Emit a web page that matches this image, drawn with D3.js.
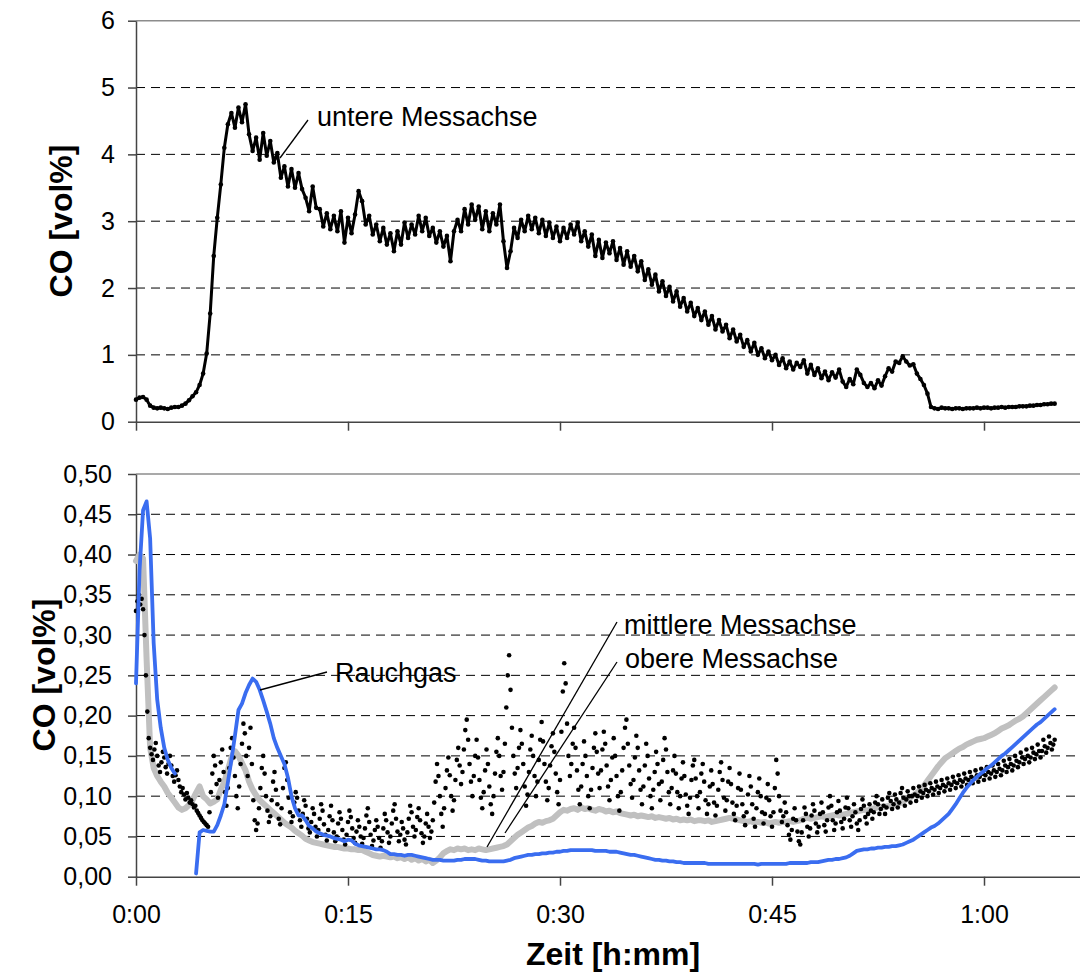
<!DOCTYPE html>
<html>
<head>
<meta charset="utf-8">
<script src="https://cdn.jsdelivr.net/npm/d3@7"></script>
<style>
  body { margin: 0; background: #fff; }
  svg text { font-family: Arial, "Liberation Sans", sans-serif; fill: #000; }
</style>
</head>
<body>
<div id="chart"></div>
<script>
// sample spacing in minutes
const step = 0.25;       // untere, Rauchgas, obere
const stepMitte = 0.1;   // mittlere (scatter)

// CO untere Messachse [vol%], top panel
const untere = [
  0.33, 0.36, 0.37, 0.33,  0.24, 0.21, 0.20, 0.21,  0.20, 0.19, 0.21, 0.22,
  0.22, 0.24, 0.27, 0.32,  0.38, 0.44, 0.55, 0.72,  1.02, 1.62, 2.48, 3.05,
  3.55, 4.10, 4.45, 4.62,  4.40, 4.70, 4.48, 4.75,  4.30, 4.05, 4.25, 3.92,
  4.32, 3.98, 4.20, 3.88,  4.02, 3.65, 3.82, 3.52,  3.78, 3.50, 3.72, 3.48,
  3.35, 3.15, 3.52, 3.20,  3.18, 2.92, 3.12, 2.88,  3.08, 2.85, 3.15, 2.68,
  3.05, 2.82, 3.10, 3.45,  3.30, 2.95, 3.08, 2.80,  2.95, 2.70, 2.90, 2.65,
  2.82, 2.55, 2.85, 2.65,  2.98, 2.75, 2.95, 2.80,  3.08, 2.85, 3.05, 2.78,
  2.90, 2.68, 2.85, 2.62,  2.78, 2.40, 2.85, 3.02,  2.85, 3.18, 2.95, 3.25,
  3.02, 3.22, 2.88, 3.15,  2.85, 3.12, 2.95, 3.25,  2.70, 2.30, 2.55, 2.90,
  2.75, 3.02, 2.85, 3.08,  2.88, 3.05, 2.82, 3.02,  2.78, 2.98, 2.75, 2.92,
  2.70, 2.90, 2.75, 2.95,  2.80, 2.98, 2.70, 2.85,  2.62, 2.80, 2.48, 2.72,
  2.45, 2.68, 2.52, 2.70,  2.42, 2.60, 2.35, 2.55,  2.32, 2.48, 2.25, 2.40,
  2.12, 2.28, 2.05, 2.20,  1.95, 2.10, 1.88, 2.02,  1.80, 1.95, 1.72, 1.85,
  1.65, 1.78, 1.58, 1.70,  1.52, 1.65, 1.45, 1.58,  1.38, 1.52, 1.35, 1.45,
  1.25, 1.38, 1.20, 1.30,  1.12, 1.22, 1.05, 1.18,  1.00, 1.10, 0.95, 1.05,
  0.92, 1.00, 0.85, 0.95,  0.80, 0.90, 0.78, 0.88,  0.82, 0.92, 0.72, 0.85,
  0.70, 0.80, 0.65, 0.75,  0.62, 0.74, 0.66, 0.78,  0.60, 0.52, 0.64, 0.56,
  0.78, 0.70, 0.58, 0.52,  0.58, 0.50, 0.62, 0.54,  0.68, 0.80, 0.75, 0.90,
  0.88, 0.98, 0.90, 0.84,  0.86, 0.72, 0.64, 0.55,  0.42, 0.22, 0.20, 0.19,
  0.21, 0.20, 0.20, 0.19,  0.20, 0.20, 0.19, 0.20,  0.20, 0.20, 0.21, 0.20,
  0.21, 0.21, 0.20, 0.21,  0.21, 0.22, 0.21, 0.22,  0.22, 0.22, 0.23, 0.23,
  0.23, 0.24, 0.24, 0.25,  0.25, 0.26, 0.26, 0.27,  0.27
];

// CO Rauchgas [vol%], bottom panel (null = no reading)
const rauchgas = [
  0.240, 0.380, 0.455, 0.466,  0.420, 0.290, 0.220, 0.185,  0.160, 0.145, 0.135, 0.128,
  null, null, null, null,      null, 0.004, 0.055, 0.058,   0.057, 0.056, 0.056, 0.064,
  0.076, 0.090, 0.117, 0.145,  0.175, 0.207, 0.215, 0.228,  0.238, 0.246, 0.242, 0.232,
  0.219, 0.205, 0.190, 0.172,  0.160, 0.150, 0.140, 0.123,  0.100, 0.085, 0.076, 0.076,
  0.070, 0.063, 0.060, 0.056,  0.054, 0.052, 0.051, 0.050,  0.048, 0.047, 0.046, 0.044,
  0.046, 0.045, 0.041, 0.039,  0.038, 0.037, 0.036, 0.035,  0.034, 0.034, 0.033, 0.031,
  0.028, 0.028, 0.027, 0.027,  0.026, 0.027, 0.027, 0.026,  0.025, 0.024, 0.023, 0.022,
  0.021, 0.021, 0.021, 0.020,  0.020, 0.020, 0.020, 0.021,  0.021, 0.022, 0.022, 0.022,
  0.022, 0.021, 0.020, 0.020,  0.019, 0.019, 0.019, 0.019,  0.019, 0.020, 0.021, 0.023,
  0.024, 0.025, 0.026, 0.027,  0.027, 0.028, 0.028, 0.029,  0.029, 0.030, 0.030, 0.031,
  0.031, 0.032, 0.032, 0.033,  0.033, 0.033, 0.033, 0.033,  0.033, 0.033, 0.032, 0.032,
  0.032, 0.032, 0.031, 0.031,  0.031, 0.030, 0.029, 0.028,  0.027, 0.027, 0.026, 0.025,
  0.024, 0.023, 0.022, 0.021,  0.021, 0.020, 0.020, 0.019,  0.019, 0.018, 0.018, 0.017,
  0.017, 0.017, 0.017, 0.017,  0.017, 0.017, 0.016, 0.016,  0.016, 0.016, 0.016, 0.016,
  0.016, 0.016, 0.016, 0.016,  0.016, 0.016, 0.016, 0.016,  0.015, 0.016, 0.016, 0.016,
  0.016, 0.016, 0.016, 0.016,  0.016, 0.017, 0.017, 0.017,  0.017, 0.017, 0.017, 0.018,
  0.018, 0.018, 0.019, 0.020,  0.021, 0.021, 0.022, 0.022,  0.023, 0.024, 0.026, 0.029,
  0.032, 0.033, 0.034, 0.034,  0.035, 0.035, 0.036, 0.036,  0.037, 0.037, 0.038, 0.038,
  0.039, 0.040, 0.042, 0.044,  0.046, 0.049, 0.052, 0.055,  0.058, 0.061, 0.063, 0.066,
  0.070, 0.074, 0.078, 0.084,  0.090, 0.097, 0.104, 0.110,  0.115, 0.120, 0.124, 0.128,
  0.131, 0.135, 0.138, 0.142,  0.146, 0.150, 0.153, 0.157,  0.161, 0.165, 0.169, 0.173,
  0.177, 0.181, 0.185, 0.189,  0.192, 0.196, 0.200, 0.204,  0.208
];

// CO obere Messachse [vol%], bottom panel (grey)
const obere = [
  0.392, 0.400, 0.395, 0.270,  0.160, 0.135, 0.125, 0.118,  0.112, 0.104, 0.098, 0.092,
  0.086, 0.083, 0.085, 0.089,  0.095, 0.104, 0.112, 0.100,  0.096, 0.091, 0.093, 0.096,
  0.108, 0.118, 0.132, 0.148,  0.156, 0.150, 0.141, 0.132,  0.118, 0.108, 0.101, 0.095,
  0.091, 0.087, 0.083, 0.079,  0.075, 0.071, 0.067, 0.064,  0.061, 0.057, 0.054, 0.051,
  0.047, 0.045, 0.043, 0.042,  0.041, 0.040, 0.039, 0.038,  0.037, 0.037, 0.036, 0.035,
  0.035, 0.034, 0.034, 0.033,  0.033, 0.031, 0.029, 0.027,  0.026, 0.025, 0.026, 0.025,
  0.024, 0.025, 0.023, 0.024,  0.022, 0.024, 0.021, 0.023,  0.020, 0.022, 0.019, 0.021,
  0.017, 0.020, 0.024, 0.029,  0.032, 0.034, 0.033, 0.035,  0.034, 0.035, 0.033, 0.034,
  0.033, 0.035, 0.034, 0.033,  0.034, 0.035, 0.036, 0.037,  0.038, 0.040, 0.044, 0.048,
  0.052, 0.055, 0.058, 0.061,  0.063, 0.066, 0.068, 0.067,  0.069, 0.070, 0.072, 0.076,
  0.080, 0.083, 0.082, 0.084,  0.085, 0.083, 0.086, 0.084,  0.085, 0.083, 0.082, 0.084,
  0.083, 0.081, 0.082, 0.080,  0.081, 0.079, 0.078, 0.077,  0.076, 0.077, 0.075, 0.076,
  0.075, 0.074, 0.075, 0.073,  0.074, 0.073, 0.072, 0.073,  0.071, 0.072, 0.070, 0.071,
  0.070, 0.071, 0.069, 0.070,  0.070, 0.069, 0.070, 0.068,  0.069, 0.070, 0.071, 0.072,
  0.073, 0.072, 0.071, 0.070,  0.069, 0.068, 0.069, 0.067,  0.068, 0.067, 0.068, 0.066,
  0.067, 0.068, 0.067, 0.068,  0.068, 0.069, 0.068, 0.069,  0.070, 0.072, 0.073, 0.072,
  0.073, 0.074, 0.075, 0.074,  0.075, 0.076, 0.077, 0.076,  0.077, 0.078, 0.079, 0.080,
  0.081, 0.082, 0.083, 0.082,  0.084, 0.085, 0.086, 0.087,  0.087, 0.088, 0.089, 0.090,
  0.091, 0.093, 0.096, 0.098,  0.101, 0.104, 0.108, 0.113,  0.119, 0.125, 0.131, 0.137,
  0.142, 0.147, 0.150, 0.153,  0.156, 0.159, 0.161, 0.164,  0.166, 0.168, 0.170, 0.171,
  0.172, 0.174, 0.176, 0.178,  0.181, 0.184, 0.186, 0.188,  0.191, 0.194, 0.196, 0.199,
  0.203, 0.207, 0.211, 0.215,  0.219, 0.223, 0.227, 0.231,  0.235
];

// CO mittlere Messachse [vol%], bottom panel (black scatter), one row per minute
const mittlere = [
  0.330, 0.342, 0.350, 0.338, 0.345, 0.332, 0.300, 0.250, 0.205, 0.172,
  0.160, 0.152, 0.145, 0.158, 0.166, 0.150, 0.138, 0.130, 0.142, 0.155,
  0.148, 0.136, 0.128, 0.140, 0.150, 0.138, 0.125, 0.118, 0.126, 0.132,
  0.120, 0.112, 0.105, 0.110, 0.102, 0.096, 0.104, 0.098, 0.092, 0.095,
  0.090, 0.086, 0.088, 0.082, 0.079, 0.076, 0.073, 0.070, 0.068, 0.066,
  0.064, 0.062, 0.080, 0.105, 0.128, 0.150, 0.138, 0.115, 0.098, 0.120,
  0.142, 0.158, 0.130, 0.105, 0.088, 0.110, 0.135, 0.160, 0.172, 0.148,
  0.125, 0.100, 0.085, 0.112, 0.140, 0.165, 0.190, 0.178, 0.150, 0.125,
  0.160, 0.185, 0.140, 0.095, 0.070, 0.058, 0.066, 0.085, 0.110, 0.135,
  0.150, 0.128, 0.100, 0.082, 0.068, 0.075, 0.095, 0.118, 0.130, 0.108,
  0.090, 0.072, 0.065, 0.085, 0.110, 0.135, 0.142, 0.120, 0.098, 0.080,
  0.068, 0.075, 0.092, 0.105, 0.098, 0.082, 0.070, 0.062, 0.078, 0.095,
  0.088, 0.072, 0.060, 0.055, 0.068, 0.085, 0.078, 0.062, 0.050, 0.058,
  0.072, 0.090, 0.082, 0.065, 0.052, 0.045, 0.058, 0.075, 0.088, 0.070,
  0.055, 0.044, 0.050, 0.066, 0.080, 0.072, 0.058, 0.046, 0.040, 0.052,
  0.068, 0.082, 0.074, 0.060, 0.048, 0.042, 0.056, 0.070, 0.062, 0.050,
  0.041, 0.048, 0.060, 0.076, 0.085, 0.068, 0.052, 0.038, 0.045, 0.058,
  0.070, 0.062, 0.048, 0.036, 0.044, 0.060, 0.078, 0.070, 0.055, 0.042,
  0.050, 0.066, 0.082, 0.090, 0.072, 0.056, 0.044, 0.052, 0.068, 0.060,
  0.046, 0.040, 0.055, 0.072, 0.088, 0.080, 0.062, 0.050, 0.058, 0.074,
  0.085, 0.070, 0.054, 0.042, 0.050, 0.066, 0.078, 0.062, 0.048, 0.056,
  0.070, 0.092, 0.118, 0.140, 0.125, 0.100, 0.078, 0.062, 0.085, 0.110,
  0.132, 0.148, 0.126, 0.100, 0.082, 0.095, 0.120, 0.145, 0.160, 0.138,
  0.115, 0.130, 0.158, 0.182, 0.195, 0.170, 0.140, 0.118, 0.100, 0.125,
  0.150, 0.170, 0.148, 0.120, 0.098, 0.085, 0.105, 0.132, 0.158, 0.140,
  0.112, 0.090, 0.078, 0.100, 0.128, 0.155, 0.172, 0.150, 0.125, 0.108,
  0.130, 0.165, 0.210, 0.250, 0.275, 0.232, 0.185, 0.150, 0.128, 0.110,
  0.135, 0.160, 0.182, 0.165, 0.140, 0.112, 0.088, 0.102, 0.130, 0.158,
  0.175, 0.150, 0.125, 0.100, 0.118, 0.145, 0.170, 0.192, 0.168, 0.140,
  0.118, 0.095, 0.110, 0.138, 0.162, 0.178, 0.155, 0.128, 0.105, 0.090,
  0.120, 0.180, 0.230, 0.265, 0.240, 0.190, 0.150, 0.125, 0.140, 0.165,
  0.185, 0.160, 0.132, 0.108, 0.090, 0.112, 0.140, 0.168, 0.150, 0.125,
  0.100, 0.085, 0.108, 0.135, 0.160, 0.178, 0.155, 0.128, 0.110, 0.132,
  0.158, 0.180, 0.165, 0.138, 0.112, 0.095, 0.120, 0.148, 0.172, 0.150,
  0.125, 0.100, 0.082, 0.105, 0.132, 0.160, 0.185, 0.195, 0.165, 0.138,
  0.115, 0.098, 0.120, 0.148, 0.175, 0.160, 0.132, 0.108, 0.090, 0.112,
  0.138, 0.165, 0.150, 0.122, 0.100, 0.085, 0.108, 0.130, 0.155, 0.140,
  0.115, 0.095, 0.118, 0.145, 0.172, 0.158, 0.130, 0.105, 0.090, 0.110,
  0.132, 0.150, 0.128, 0.105, 0.085, 0.100, 0.122, 0.142, 0.125, 0.102,
  0.088, 0.078, 0.098, 0.120, 0.138, 0.145, 0.122, 0.100, 0.085, 0.105,
  0.128, 0.140, 0.118, 0.095, 0.078, 0.090, 0.112, 0.132, 0.115, 0.092,
  0.076, 0.088, 0.108, 0.130, 0.142, 0.120, 0.098, 0.082, 0.095, 0.118,
  0.135, 0.115, 0.092, 0.078, 0.070, 0.088, 0.110, 0.128, 0.108, 0.090,
  0.075, 0.064, 0.080, 0.102, 0.125, 0.112, 0.090, 0.072, 0.062, 0.085,
  0.105, 0.122, 0.100, 0.080, 0.066, 0.078, 0.098, 0.115, 0.095, 0.075,
  0.062, 0.080, 0.110, 0.145, 0.128, 0.100, 0.082, 0.068, 0.075, 0.092,
  0.080, 0.064, 0.052, 0.046, 0.058, 0.072, 0.085, 0.070, 0.056, 0.044,
  0.040, 0.055, 0.070, 0.086, 0.078, 0.062, 0.050, 0.060, 0.076, 0.090,
  0.082, 0.066, 0.055, 0.062, 0.078, 0.092, 0.080, 0.064, 0.056, 0.070,
  0.086, 0.100, 0.088, 0.070, 0.058, 0.066, 0.080, 0.094, 0.082, 0.068,
  0.060, 0.072, 0.086, 0.098, 0.085, 0.070, 0.062, 0.075, 0.090, 0.080,
  0.066, 0.058, 0.070, 0.084, 0.096, 0.088, 0.074, 0.066, 0.078, 0.090,
  0.082, 0.072, 0.080, 0.092, 0.100, 0.090, 0.078, 0.084, 0.096, 0.088,
  0.078, 0.086, 0.098, 0.104, 0.094, 0.084, 0.090, 0.102, 0.096, 0.086,
  0.092, 0.104, 0.110, 0.098, 0.088, 0.096, 0.106, 0.100, 0.092, 0.100,
  0.110, 0.102, 0.094, 0.100, 0.112, 0.106, 0.098, 0.104, 0.114, 0.108,
  0.100, 0.106, 0.116, 0.110, 0.102, 0.108, 0.118, 0.112, 0.104, 0.110,
  0.120, 0.114, 0.106, 0.112, 0.122, 0.116, 0.108, 0.114, 0.124, 0.118,
  0.110, 0.116, 0.126, 0.120, 0.112, 0.118, 0.128, 0.122, 0.114, 0.120,
  0.130, 0.124, 0.116, 0.122, 0.132, 0.126, 0.118, 0.124, 0.134, 0.128,
  0.120, 0.126, 0.136, 0.130, 0.122, 0.128, 0.138, 0.132, 0.124, 0.130,
  0.140, 0.134, 0.126, 0.132, 0.144, 0.138, 0.130, 0.136, 0.146, 0.140,
  0.132, 0.138, 0.150, 0.144, 0.136, 0.142, 0.154, 0.148, 0.140, 0.146,
  0.158, 0.150, 0.142, 0.148, 0.160, 0.154, 0.146, 0.152, 0.164, 0.156,
  0.148, 0.156, 0.170, 0.162, 0.154, 0.160, 0.174, 0.166, 0.158, 0.164,
  0.170
];

const timeTicks = [0, 15, 30, 45, 60];
const topTicks = [0, 1, 2, 3, 4, 5, 6];
const bottomTicks = [0, 0.05, 0.10, 0.15, 0.20, 0.25, 0.30, 0.35, 0.40, 0.45, 0.50];

const width = 1080;
const height = 974;

const svg = d3.select("#chart").append("svg")
    .attr("width", width)
    .attr("height", height);

// 212 px per 15 minutes
const x = d3.scaleLinear().domain([0, 70]).range([136, 136 + 70 * 212 / 15]);
const yTop = d3.scaleLinear().domain([0, 6]).range([421.7, 20.7]);
const yBot = d3.scaleLinear().domain([0, 0.5]).range([876.7, 474]);

const fmtTime = m => `${Math.floor(m / 60)}:${String(m % 60).padStart(2, "0")}`;
const fmtComma = d => d3.format(".2f")(d).replace(".", ",");

function drawFrame(y, ticks, yFormat, pad, showTimeLabels) {
    const g = svg.append("g");
    const top = ticks[ticks.length - 1];

    // dashed grid lines
    g.selectAll("line.grid")
        .data(ticks.slice(1, -1))
        .enter().append("line")
        .attr("class", "grid")
        .attr("x1", x(0)).attr("x2", width)
        .attr("y1", d => y(d)).attr("y2", d => y(d))
        .attr("stroke", "#000")
        .attr("stroke-width", 1)
        .attr("stroke-dasharray", "9,6");

    // upper frame line
    g.append("line")
        .attr("x1", x(0)).attr("x2", width)
        .attr("y1", y(top)).attr("y2", y(top))
        .attr("stroke", "#8c8c8c")
        .attr("stroke-width", 1.5);

    const yAxis = g.append("g")
        .attr("transform", `translate(${x(0)},0)`)
        .call(d3.axisLeft(y).tickValues(ticks).tickFormat(yFormat)
            .tickSize(8).tickPadding(pad).tickSizeOuter(0));

    const xAxis = g.append("g")
        .attr("transform", `translate(0,${y(0)})`)
        .call(d3.axisBottom(x).tickValues(timeTicks)
            .tickFormat(showTimeLabels ? fmtTime : () => "")
            .tickSize(9).tickPadding(20).tickSizeOuter(0));

    [yAxis, xAxis].forEach(a => {
        a.attr("font-family", null).attr("font-size", null);
        a.select(".domain").attr("stroke", "#444").attr("stroke-width", 1.5);
        a.selectAll(".tick line").attr("stroke", "#444").attr("stroke-width", 1.5);
        a.selectAll(".tick text").style("font-size", "25px");
    });
}

drawFrame(yTop, topTicks, d3.format("d"), 13, false);
drawFrame(yBot, bottomTicks, fmtComma, 16, true);

// top panel: untere Messachse
const lineTop = d3.line()
    .x((d, i) => x(i * step))
    .y(d => yTop(d));

svg.append("path")
    .datum(untere)
    .attr("d", lineTop)
    .attr("fill", "none")
    .attr("stroke", "#000")
    .attr("stroke-width", 3)
    .attr("stroke-linejoin", "round");

svg.append("g").selectAll("circle")
    .data(untere)
    .enter().append("circle")
    .attr("cx", (d, i) => x(i * step))
    .attr("cy", d => yTop(d))
    .attr("r", 2.3)
    .attr("fill", "#000");

// bottom panel
const lineBot = d3.line()
    .defined(d => d != null)
    .x((d, i) => x(i * step))
    .y(d => yBot(d));

svg.append("path")
    .datum(obere)
    .attr("d", lineBot)
    .attr("fill", "none")
    .attr("stroke", "#c0c0c0")
    .attr("stroke-width", 6)
    .attr("stroke-linejoin", "round")
    .attr("stroke-linecap", "round");

svg.append("g").selectAll("circle")
    .data(mittlere)
    .enter().append("circle")
    .attr("cx", (d, i) => x(i * stepMitte))
    .attr("cy", d => yBot(d))
    .attr("r", 2.3)
    .attr("fill", "#000");

svg.append("path")
    .datum(rauchgas)
    .attr("d", lineBot)
    .attr("fill", "none")
    .attr("stroke", "#3a6df0")
    .attr("stroke-width", 3.8)
    .attr("stroke-linejoin", "round")
    .attr("stroke-linecap", "round");

// annotations: leader line + label
const notes = [
    { text: "untere Messachse", x1: 280, y1: 158, x2: 308, y2: 120, tx: 317, ty: 126 },
    { text: "Rauchgas", x1: 260, y1: 690, x2: 327, y2: 672, tx: 335, ty: 682 },
    { text: "mittlere Messachse", x1: 487, y1: 847, x2: 617, y2: 622, tx: 624, ty: 634 },
    { text: "obere Messachse", x1: 505, y1: 833, x2: 617, y2: 662, tx: 625, ty: 668 }
];

const ann = svg.append("g");
ann.selectAll("line")
    .data(notes)
    .enter().append("line")
    .attr("x1", d => d.x1).attr("y1", d => d.y1)
    .attr("x2", d => d.x2).attr("y2", d => d.y2)
    .attr("stroke", "#000")
    .attr("stroke-width", 1.3);
ann.selectAll("text")
    .data(notes)
    .enter().append("text")
    .attr("x", d => d.tx)
    .attr("y", d => d.ty)
    .style("font-size", "27px")
    .text(d => d.text);

// axis titles
[[61, 221], [44, 675]].forEach(([cx, cy]) => {
    svg.append("text")
        .attr("transform", `translate(${cx},${cy}) rotate(-90)`)
        .attr("text-anchor", "middle")
        .attr("dy", "0.35em")
        .style("font-size", "32px")
        .style("font-weight", "bold")
        .text("CO [vol%]");
});

svg.append("text")
    .attr("x", 613)
    .attr("y", 965)
    .attr("text-anchor", "middle")
    .style("font-size", "32px")
    .style("font-weight", "bold")
    .text("Zeit [h:mm]");
</script>
</body>
</html>
